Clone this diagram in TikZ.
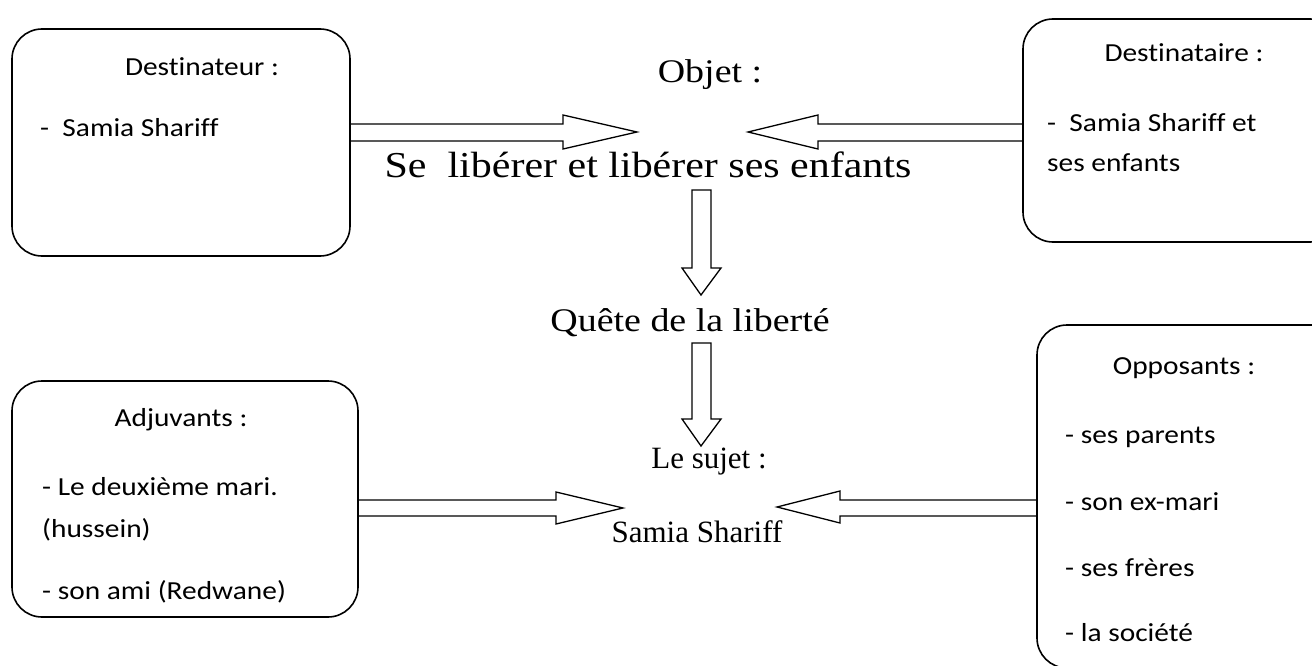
\documentclass[tikz,border=0pt]{standalone}
\usepackage{fontspec}
\setmainfont{Liberation Serif}
\newfontfamily\boxfont[FakeStretch=1.13,Ligatures=NoCommon]{Carlito}
\newfontfamily\midfont[FakeStretch=1.15]{Liberation Serif}
\tikzset{
  box/.style={draw, line width=1.6pt, rounded corners=30pt},
  boxtxt/.style={font=\boxfont\fontsize{26}{30}\selectfont, inner sep=0pt, anchor=west},
  boxtitle/.style={font=\boxfont\fontsize{26}{30}\selectfont, inner sep=0pt},
  midtxt/.style={font=\midfont\fontsize{33}{38}\selectfont, inner sep=0pt},
  midbig/.style={font=\midfont\fontsize{36.5}{42}\selectfont, inner sep=0pt},
  midsmall/.style={font=\fontsize{31}{36}\selectfont, inner sep=0pt},
  blockarrow/.style={draw, line width=1.3pt, line join=miter},
}
\begin{document}
\begin{tikzpicture}[x=1pt,y=-1pt]
\useasboundingbox (0,0) rectangle (1312,666);
% boxes
\draw[box] (12,29) rectangle (350,256);
\draw[box] (1023,19) rectangle (1340,242);
\draw[box] (12,381) rectangle (358,617);
\draw[box] (1037,325) rectangle (1345,668);
% box texts
\node[boxtitle] (t1) at (202,67) {Destinateur :};
\node[boxtxt] (t1a) at (40,128) {-\ \ Samia Shariff};
\node[boxtitle] (t2) at (1184,53) {Destinataire :};
\node[boxtxt] (t2a) at (1047,123) {-\ \ Samia Shariff et};
\node[boxtxt] (t2b) at (1047,163) {ses enfants};
\node[boxtitle] (t3) at (181,420) {Adjuvants :};
\node[boxtxt] (t3a) at (42,487) {- Le deuxième mari.};
\node[boxtxt] (t3b) at (42,530) {(hussein)};
\node[boxtxt] (t3c) at (42,592) {- son ami (Redwane)};
\node[boxtitle] (t4) at (1184,368) {Opposants :};
\node[boxtxt] (t4a) at (1065,437) {- ses parents};
\node[boxtxt] (t4b) at (1065,502) {- son ex-mari};
\node[boxtxt] (t4c) at (1065,568) {- ses frères};
\node[boxtxt] (t4d) at (1065,633) {- la société};
% middle texts
\node[midtxt] (obj) at (710,75) {Objet :};
\node[midbig] (lib) at (648,165) {Se\ \ libérer et libérer ses enfants};
\node[midtxt] (quete) at (690,323) {Quête de la liberté};
\node[midsmall] (sujet) at (709,462) {Le sujet :};
\node[midsmall] (samia) at (697,532) {Samia Shariff};
% block arrows
\draw[blockarrow] (350,124) -- (563,124) -- (563,115) -- (637,132) -- (563,149) -- (563,141) -- (350,141);
\draw[blockarrow] (1023,124) -- (818,124) -- (818,115) -- (748,132) -- (818,149) -- (818,141) -- (1023,141);
\draw[blockarrow] (692,190) -- (692,268) -- (682,268) -- (701,295) -- (721,268) -- (711,268) -- (711,190) -- cycle;
\draw[blockarrow] (692,343) -- (692,419) -- (682,419) -- (701,446) -- (721,419) -- (711,419) -- (711,343) -- cycle;
\draw[blockarrow] (358,500) -- (556,500) -- (556,492) -- (623,508) -- (556,524) -- (556,516) -- (358,516);
\draw[blockarrow] (1037,500) -- (840,500) -- (840,491) -- (777,507) -- (840,523) -- (840,516) -- (1037,516);
\end{tikzpicture}
\end{document}
